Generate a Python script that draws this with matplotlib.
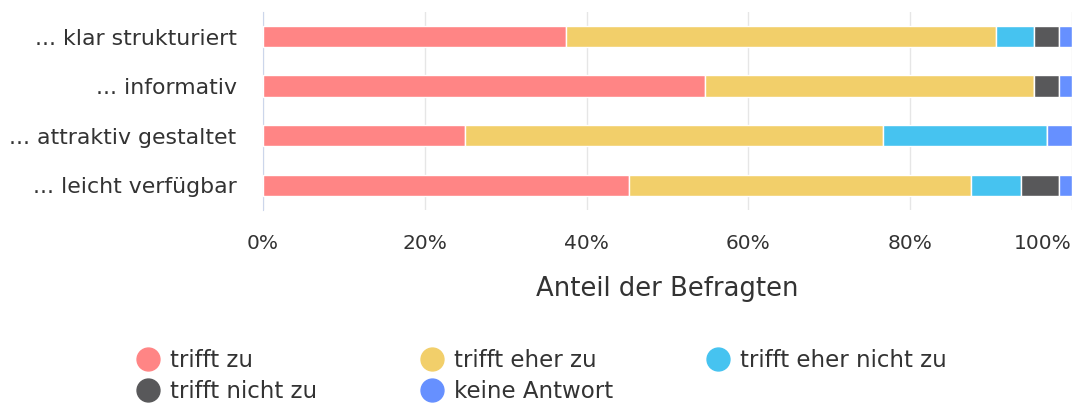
import matplotlib.pyplot as plt
from matplotlib.lines import Line2D
import numpy as np

plt.rcParams['font.family'] = ['DejaVu Sans']

categories = ["... klar strukturiert", "... informativ", "... attraktiv gestaltet", "... leicht verfügbar"]
series = ["trifft zu", "trifft eher zu", "trifft eher nicht zu", "trifft nicht zu", "keine Antwort"]
colors = ["#FF8585", "#F2CF6A", "#46C3F0", "#58585A", "#6690FF"]

# Anteile in Prozent, eine Liste je Antwort
trifft_zu = [37.5, 54.7, 25.0, 45.3]
eher_zu = [53.1, 40.6, 51.6, 42.2]
eher_nicht_zu = [4.7, 0.0, 20.3, 6.25]
nicht_zu = [3.1, 3.1, 0.0, 4.7]
keine_antwort = [1.6, 1.6, 3.1, 1.6]
values = [trifft_zu, eher_zu, eher_nicht_zu, nicht_zu, keine_antwort]

ticks = [0, 20, 40, 60, 80, 100]
tick_labels = ["0%", "20%", "40%", "60%", "80%", "100%"]

fig = plt.figure(figsize=(10.8, 4.07), dpi=100)
ax = fig.add_axes([0.2435, 0.484, 0.749, 0.487])

y = np.arange(len(categories))
left = np.zeros(len(categories))
for vals, col in zip(values, colors):
    vals = np.array(vals)
    ax.barh(y, vals, left=left, height=0.43, color=col, edgecolor="white", linewidth=1, zorder=3)
    left += vals

ax.set_ylim(len(categories) - 0.5, -0.5)
ax.set_xlim(0, 100)
ax.set_yticks(y)
ax.set_yticklabels(categories, fontsize=15.8, color="#333333")
ax.set_xticks(ticks)
ax.set_xticklabels(tick_labels, fontsize=14.5, color="#333333")
# letztes Label nach links schieben, damit es nicht abgeschnitten wird
ax.get_xticklabels()[-1].set_horizontalalignment("right")
ax.tick_params(axis="y", length=0, pad=19)
ax.tick_params(axis="x", length=0, pad=17)
ax.grid(axis="x", color="#e6e6e6", linewidth=1, zorder=0)
for s in ["top", "right", "bottom"]:
    ax.spines[s].set_visible(False)
ax.spines["left"].set_color("#ccd6eb")
ax.set_xlabel("Anteil der Befragten", fontsize=18.6, color="#333333", labelpad=17)

# Legende: drei Spalten mit fester Breite, zeilenweise gefuellt
handles = [Line2D([], [], marker="o", linestyle="", markersize=16.5, color=c) for c in colors]
col_x = [137, 421, 707]
for k, x0 in enumerate(col_x):
    idx = list(range(k, len(series), 3))
    leg = fig.legend([handles[i] for i in idx], [series[i] for i in idx],
                     loc="upper left", bbox_to_anchor=(x0 / 1080, 0.143), frameon=False,
                     fontsize=16.5, borderpad=0, borderaxespad=0, handletextpad=0.45,
                     labelspacing=0.375, handlelength=0.97, labelcolor="#333333")

fig.savefig("out.png", dpi=100)
